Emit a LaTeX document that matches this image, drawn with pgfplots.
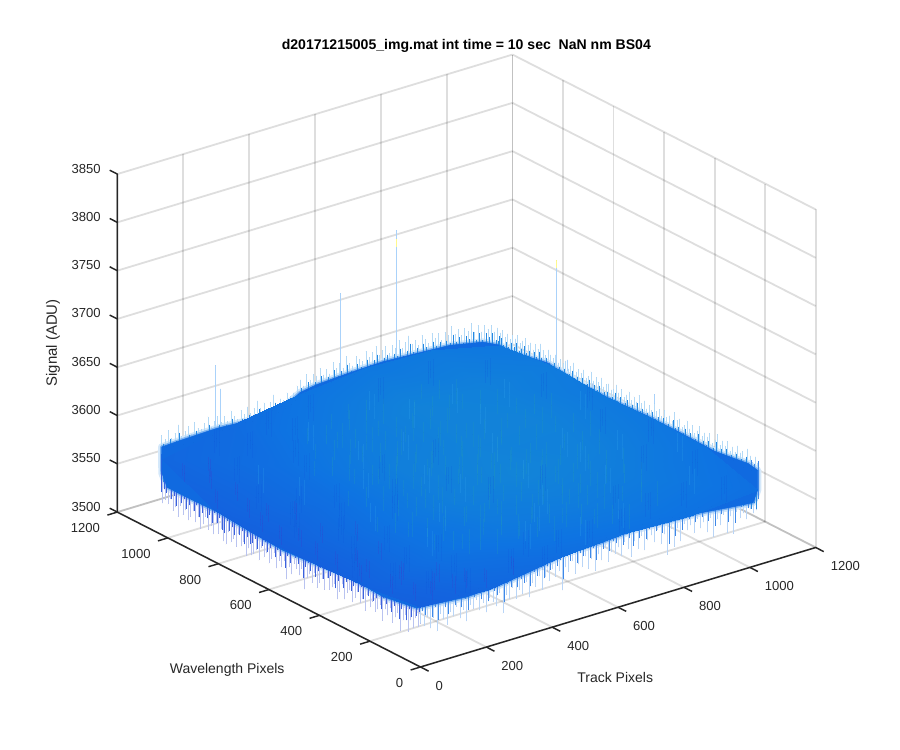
\documentclass[border=0pt]{standalone}
\usepackage{fontspec}
\setmainfont{Liberation Sans}
\usepackage{pgfplots}
\usepackage{pgfplotstable}
\pgfplotsset{compat=1.18}

\definecolor{axisdark}{rgb}{0.15,0.15,0.15}
\definecolor{bluebase}{RGB}{16,106,224}
\definecolor{hazeout}{RGB}{212,232,250}
\definecolor{hazein}{RGB}{125,180,242}
\definecolor{fringetop}{RGB}{180,218,247}
\definecolor{fringeleft}{RGB}{185,195,240}
\definecolor{fringeright}{RGB}{185,213,247}
\definecolor{darktop}{RGB}{36,136,226}
\definecolor{darkleft}{RGB}{58,98,222}
\definecolor{darkright}{RGB}{62,136,232}
\definecolor{spike}{RGB}{170,210,250}
\definecolor{stteal}{RGB}{30,148,192}
\definecolor{stblue}{RGB}{15,85,220}
\definecolor{stpurple}{RGB}{62,60,205}
\definecolor{stlight}{RGB}{45,160,235}

% outline of the surface as seen from this view: x y z
\pgfplotstableread[row sep=\\]{x y z\\
0 1024 3591\\ 64 1024 3592\\ 168 1024 3593\\ 268 1024 3591\\ 368 1024 3593\\ 420 1024 3604\\ 471 1024 3607\\
572 1024 3609\\ 672 1024 3610\\ 775 1024 3608\\ 875 1024 3606\\ 975 1024 3599\\ 1024 1024 3591\\
1024 968 3591\\ 1024 834 3598\\ 1024 703 3594\\ 1024 572 3594\\ 1024 438 3596\\ 1024 307 3596\\ 1024 172 3595\\ 1024 38 3600\\ 1024 0 3598\\
1024 0 3578\\ 1010 0 3566\\ 949 0 3568\\ 849 0 3572\\ 749 0 3573\\ 645 0 3575\\ 546 0 3572\\ 445 0 3572\\ 342 0 3565\\ 241 0 3560\\ 141 0 3558\\
0 0 3562\\ 0 14 3559\\ 0 148 3553\\ 0 279 3555\\ 0 410 3551\\ 0 544 3548\\ 0 675 3550\\ 0 805 3553\\ 0 940 3552\\ 0 1003 3552\\ 0 1023 3564\\ 0 1024 3578\\
}\outline

% spikes sticking out of the four edges of the surface, one value every 10 pixels
\pgfplotstableread[row sep=\\]{z\\
3603\\3598\\3606\\3597\\3601\\3609\\3596\\3600\\3604\\3595\\3606\\3599\\3597\\3602\\3608\\3596\\3601\\3605\\3598\\3603\\
3597\\3607\\3600\\3596\\3604\\3599\\3606\\3598\\3602\\3609\\3600\\3605\\3597\\3603\\3610\\3599\\3604\\3601\\3608\\3603\\
3606\\3612\\3617\\3610\\3621\\3614\\3619\\3616\\3623\\3615\\3620\\3614\\3625\\3618\\3622\\3616\\3627\\3619\\3615\\3624\\
3620\\3617\\3626\\3619\\3623\\3628\\3618\\3622\\3625\\3617\\3624\\3620\\3627\\3618\\3623\\3629\\3619\\3622\\3616\\3625\\
3620\\3615\\3624\\3618\\3622\\3614\\3621\\3617\\3625\\3616\\3620\\3613\\3619\\3615\\3622\\3612\\3618\\3610\\3616\\3611\\
3614\\3606\\3609\\}\backleft
\pgfplotstableread[row sep=\\]{z\\
3606\\3611\\3604\\3609\\3615\\3603\\3610\\3607\\3613\\3605\\3609\\3603\\3612\\3606\\3610\\3604\\3614\\3607\\3602\\3611\\
3606\\3609\\3604\\3613\\3607\\3603\\3610\\3605\\3612\\3606\\3603\\3610\\3607\\3614\\3604\\3608\\3605\\3611\\3603\\3609\\
3606\\3612\\3604\\3608\\3603\\3610\\3606\\3613\\3605\\3609\\3604\\3611\\3607\\3603\\3610\\3605\\3612\\3606\\3604\\3609\\
3607\\3603\\3611\\3605\\3609\\3604\\3612\\3606\\3603\\3610\\3605\\3608\\3604\\3612\\3607\\3603\\3610\\3606\\3609\\3604\\
3611\\3606\\3608\\3612\\3605\\3609\\3614\\3607\\3611\\3604\\3610\\3606\\3612\\3608\\3604\\3611\\3606\\3609\\3603\\3607\\
3602\\3608\\3604\\}\backright
\pgfplotstableread[row sep=\\]{z\\
3545\\3540\\3548\\3536\\3543\\3530\\3546\\3539\\3527\\3544\\3538\\3531\\3545\\3536\\3541\\3528\\3543\\3537\\3533\\3542\\
3535\\3546\\3529\\3540\\3534\\3544\\3537\\3531\\3542\\3538\\3530\\3544\\3535\\3526\\3541\\3536\\3532\\3543\\3529\\3539\\
3534\\3527\\3541\\3530\\3537\\3532\\3519\\3539\\3531\\3536\\3540\\3528\\3534\\3520\\3538\\3530\\3535\\3526\\3541\\3533\\
3527\\3536\\3531\\3539\\3525\\3534\\3529\\3526\\3532\\3523\\3536\\3530\\3541\\3527\\3534\\3529\\3538\\3524\\3526\\3537\\
3531\\3540\\3528\\3535\\3530\\3542\\3533\\3527\\3538\\3531\\3541\\3534\\3529\\3538\\3532\\3540\\3527\\3536\\3531\\3542\\
3535\\3538\\3533\\}\frontleft
\pgfplotstableread[row sep=\\]{z\\
3546\\3541\\3550\\3537\\3547\\3532\\3549\\3543\\3535\\3548\\3542\\3551\\3538\\3546\\3533\\3549\\3544\\3552\\3540\\3547\\
3536\\3550\\3545\\3539\\3552\\3530\\3548\\3543\\3553\\3541\\3549\\3544\\3555\\3538\\3552\\3547\\3557\\3542\\3554\\3549\\
3560\\3551\\3556\\3535\\3558\\3552\\3562\\3548\\3557\\3553\\3563\\3549\\3558\\3545\\3561\\3554\\3565\\3550\\3559\\3556\\
3562\\3552\\3566\\3557\\3548\\3563\\3554\\3567\\3551\\3560\\3564\\3556\\3568\\3552\\3561\\3539\\3565\\3545\\3563\\3549\\
3566\\3558\\3562\\3553\\3567\\3556\\3561\\3550\\3564\\3543\\3560\\3553\\3563\\3543\\3559\\3540\\3562\\3554\\3558\\3551\\
3560\\3555\\3557\\}\frontright

% short vertical streaks on the surface: x y z
\pgfplotstableread[row sep=\\]{x y z\\
310 420 3578\\ 455 615 3583\\ 640 275 3576\\ 525 780 3590\\ 720 505 3580\\ 385 330 3572\\ 590 455 3579\\ 810 640 3588\\ 270 700 3586\\ 665 820 3592\\
430 240 3570\\ 745 365 3576\\ 505 560 3582\\ 350 830 3594\\ 610 160 3574\\ 830 275 3578\\ 470 405 3575\\ 700 660 3586\\ 250 540 3578\\ 565 725 3588\\
395 510 3578\\ 780 780 3592\\ 635 590 3583\\ 520 300 3574\\ 330 620 3582\\ 860 480 3582\\ 685 415 3578\\ 445 860 3595\\ 575 350 3576\\ 290 250 3568\\
750 585 3584\\ 415 700 3586\\ 620 770 3590\\ 540 480 3579\\ 800 170 3576\\ 360 450 3577\\ 690 240 3575\\ 485 650 3584\\ 230 400 3572\\ 875 690 3590\\
655 500 3580\\ 320 760 3590\\ 560 220 3572\\ 725 870 3596\\ 440 320 3572\\ 600 620 3584\\ 770 450 3580\\ 380 590 3581\\ 510 880 3596\\ 840 360 3580\\
675 120 3572\\ 280 340 3570\\ 580 530 3580\\ 460 740 3588\\ 715 300 3576\\ 350 220 3566\\ 630 680 3586\\ 895 560 3586\\ 500 190 3568\\ 405 785 3590\\
}\streakteal
\pgfplotstableread[row sep=\\]{x y z\\
120 480 3566\\ 60 730 3572\\ 205 610 3574\\ 150 260 3562\\ 340 95 3562\\ 250 830 3586\\ 90 390 3562\\ 185 925 3588\\ 420 140 3566\\ 130 660 3572\\
560 70 3572\\ 275 470 3574\\ 45 560 3566\\ 210 150 3562\\ 650 60 3576\\ 375 650 3581\\ 95 860 3580\\ 160 530 3570\\ 480 90 3568\\ 310 910 3592\\
70 210 3560\\ 230 760 3582\\ 760 100 3576\\ 30 310 3560\\ 130 985 3588\\ 530 640 3583\\ 400 40 3566\\ 175 370 3566\\ 860 90 3578\\ 900 300 3584\\
945 520 3588\\ 980 200 3584\\ 950 760 3592\\ 880 890 3596\\ 1000 400 3588\\ 960 60 3578\\ 600 950 3598\\ 410 980 3596\\ 760 960 3598\\ 1005 650 3590\\
240 250 3566\\ 330 540 3576\\ 110 120 3560\\ 470 510 3578\\ 655 380 3578\\ 520 410 3576\\ 80 620 3568\\ 290 990 3590\\ 730 190 3575\\ 190 70 3560\\
}\streakblue
\pgfplotstableread[row sep=\\]{x y z\\
10 420 3562\\ 25 710 3566\\ 15 130 3566\\ 40 880 3572\\ 55 320 3564\\ 8 560 3560\\ 20 960 3570\\ 70 480 3566\\ 35 250 3564\\ 12 640 3562\\
60 30 3568\\ 120 20 3570\\ 210 12 3568\\ 100 75 3568\\ 30 60 3566\\ 170 40 3568\\ 85 180 3566\\ 50 790 3570\\ 110 300 3568\\ 90 610 3570\\
5 810 3564\\ 28 510 3562\\ 65 160 3566\\ 140 110 3568\\ 16 350 3560\\ 300 22 3570\\ 45 660 3566\\ 75 930 3574\\ 130 420 3570\\ 5 240 3564\\
}\streakpurple
\pgfplotstableread[row sep=\\]{x y z\\
480 470 3578\\ 610 840 3592\\ 350 380 3573\\ 735 720 3590\\ 215 480 3574\\ 570 110 3572\\ 830 520 3582\\ 670 590 3584\\ 440 560 3579\\ 920 420 3584\\
295 610 3582\\ 530 240 3573\\ 790 300 3578\\ 380 740 3586\\ 650 440 3579\\ 975 640 3590\\ 860 790 3594\\ 500 720 3586\\ 700 130 3574\\ 250 300 3568\\
600 300 3576\\ 170 700 3576\\ 740 840 3594\\ 930 150 3582\\ 455 180 3570\\ 335 880 3592\\ 815 430 3581\\ 550 920 3596\\ 1010 300 3588\\ 120 800 3580\\
}\streaklight

% the tall single spikes: x y z (top) d (length)
\pgfplotstableread[row sep=\\]{x y z d\\
712 1024 3742 166\\ 542 1024 3694 90\\ 162 1024 3659 67\\ 178 1024 3633 43\\ 1024 797 3709 114\\ 1024 754 3612 12\\ 1024 410 3622 26\\
}\tallspikes

\pgfplotsset{
  nomark/.style={only marks, mark size=0pt, mark options={draw=none, fill=none}, forget plot},
  spikes/.style n args={3}{nomark,
    error bars/.cd, z dir=#1, z fixed=#2, error mark=none, error bar style={#3, line width=0.42pt}},
  thick spikes/.style n args={3}{nomark,
    error bars/.cd, z dir=#1, z fixed=#2, error mark=none, error bar style={#3, line width=0.6pt}},
  axistick/.style n args={3}{nomark,
    error bars/.cd, #1 dir=#2, #1 fixed=#3, error mark=none, error bar style={axisdark, line width=1.1pt}},
  table/x index=0, table/y index=0, table/z index=0,
}

\begin{document}
\begin{tikzpicture}
\begin{axis}[
    x={(0.247pt,0.07469pt)}, y={(-0.1895pt,0.09681pt)}, z={(0pt,0.72429pt)},
    xmin=0, xmax=1200, ymin=0, ymax=1200, zmin=3500, zmax=3850,
    xtick={0,200,...,1200}, ytick={0,200,...,1200}, ztick={3500,3550,...,3850},
    scaled ticks=false, /pgf/number format/1000 sep={}, /pgf/number format/assume math mode=true,
    grid=major, major grid style={black, opacity=0.13, line width=1.35pt},
    axis line style={draw=none}, tick style={draw=none},
    major tick length=7.5pt, tick align=outside,
    tick label style={font=\fontsize{9.8}{12}\selectfont, text=axisdark},
    xticklabel style={anchor=west, xshift=1.1pt, yshift=-10.5pt},
    yticklabel style={anchor=east, xshift=-2.25pt, yshift=-9.75pt},
    zticklabel style={anchor=east, xshift=-2.25pt, yshift=0.75pt},
    clip=false,
    colormap={blues}{rgb255=(20,96,222) rgb255=(14,116,226) rgb255=(18,132,216)},
    title={\bfseries d20171215005\_img.mat int time = 10 sec\ \ NaN nm BS04},
    title style={font=\fontsize{10.54}{13}\selectfont, at={(axis cs:0,0,3500)}, anchor=center, xshift=34.4pt, yshift=459.5pt},
    xlabel={Track Pixels},
    xlabel style={font=\fontsize{10.5}{12}\selectfont, text=axisdark, at={(axis cs:0,0,3500)}, anchor=center, xshift=146pt, yshift=-8pt},
    ylabel={Wavelength Pixels},
    ylabel style={font=\fontsize{10.5}{12}\selectfont, text=axisdark, at={(axis cs:0,0,3500)}, anchor=center, xshift=-145pt, yshift=-2pt},
    zlabel={Signal (ADU)},
    zlabel style={font=\fontsize{11.2}{12}\selectfont, text=axisdark, at={(axis cs:0,0,3500)}, anchor=center, xshift=243pt, yshift=275.6pt},
]
% soft haze round the body, where the fine spikes run together
\addplot3[draw=hazeout, line width=5.5pt, line join=round, forget plot] table[x=x, y=y, z=z] {\outline} -- cycle;
% tall spikes
\addplot3[nomark, error bars/.cd, z dir=minus, z explicit, error mark=none,
    error bar style={spike, line width=0.45pt}] table[x=x, y=y, z=z, z error minus=d] {\tallspikes};
\addplot3[nomark, error bars/.cd, z dir=minus, z fixed=8, error mark=none,
    error bar style={yellow!45!white, line width=0.45pt}] coordinates {(712,1024,3733)(1024,797,3709)};
% fringe behind the body, light tips first
\addplot3[spikes={minus}{40}{fringetop}] table[x expr=\coordindex*10, y expr=1024, z=z] {\backleft};
\addplot3[spikes={minus}{40}{fringetop}] table[x expr=1024, y expr=\coordindex*10, z=z] {\backright};
\addplot3[spikes={plus}{40}{fringeleft}] table[x expr=0, y expr=\coordindex*10, z=z] {\frontleft};
\addplot3[spikes={plus}{40}{fringeright}] table[x expr=\coordindex*10, y expr=0, z=z] {\frontright};
\addplot3[draw=hazein, line width=2.6pt, line join=round, forget plot] table[x=x, y=y, z=z] {\outline} -- cycle;
\addplot3[thick spikes={minus}{40}{darktop}] table[x expr=\coordindex*10+5, y expr=1024, z expr=\thisrow{z}-9] {\backleft};
\addplot3[thick spikes={minus}{40}{darktop}] table[x expr=1024, y expr=\coordindex*10+5, z expr=\thisrow{z}-9] {\backright};
\addplot3[thick spikes={plus}{40}{darkleft}] table[x expr=0, y expr=\coordindex*10+5, z expr=\thisrow{z}+11] {\frontleft};
\addplot3[thick spikes={plus}{40}{darkright}] table[x expr=\coordindex*10+5, y expr=0, z expr=\thisrow{z}+11] {\frontright};
% body of the surface
\addplot3[fill=bluebase, draw=bluebase, line width=0.4pt, line join=round, forget plot] table[x=x, y=y, z=z] {\outline} -- cycle;
\addplot3[surf, shader=interp, point meta=\thisrow{c}, mesh/cols=6] table[x=x, y=y, z=z] {
x y z c
0 0 3562 0.05
205 0 3559 0.2
410 0 3570 0.35
614 0 3574 0.45
819 0 3572 0.45
1024 0 3578 0.4
0 205 3554 0.1
205 205 3570 0.45
410 205 3575 0.65
614 205 3580 0.75
819 205 3584 0.7
1024 205 3595 0.5
0 410 3551 0.05
205 410 3568 0.45
410 410 3576 0.8
614 410 3582 0.95
819 410 3586 0.85
1024 410 3596 0.6
0 614 3549 0.05
205 614 3570 0.4
410 614 3580 0.8
614 614 3586 0.9
819 614 3590 0.9
1024 614 3594 0.65
0 819 3553 0.1
205 819 3578 0.4
410 819 3590 0.7
614 819 3596 0.9
819 819 3596 0.85
1024 819 3598 0.7
0 1024 3578 0.2
205 1024 3592 0.3
410 1024 3603 0.5
614 1024 3609 0.6
819 1024 3607 0.65
1024 1024 3591 0.6
};
% texture of the surface: each list is used again at a small offset to thicken it
\addplot3[spikes={both}{10}{stteal, opacity=0.38}] table[x=x, y=y, z=z] {\streakteal};
\addplot3[spikes={both}{13}{stteal, opacity=0.32}] table[x expr=\thisrow{x}+27, y expr=\thisrow{y}-31, z=z] {\streakteal};
\addplot3[spikes={both}{8}{stteal, opacity=0.32}] table[x expr=\thisrow{x}-41, y expr=\thisrow{y}+19, z=z] {\streakteal};
\addplot3[spikes={both}{12}{stblue, opacity=0.2}] table[x=x, y=y, z=z] {\streakblue};
\addplot3[spikes={both}{9}{stblue, opacity=0.18}] table[x expr=\thisrow{x}+17, y expr=\thisrow{y}+13, z=z] {\streakblue};
\addplot3[spikes={both}{14}{stblue, opacity=0.18}] table[x expr=\thisrow{x}+9, y expr=\thisrow{y}-8, z=z] {\streakblue};
\addplot3[spikes={both}{9}{stpurple, opacity=0.25}] table[x=x, y=y, z=z] {\streakpurple};
\addplot3[spikes={both}{7}{stpurple, opacity=0.22}] table[x expr=\thisrow{x}+11, y expr=\thisrow{y}+23, z=z] {\streakpurple};
\addplot3[spikes={both}{10}{stlight, opacity=0.3}] table[x=x, y=y, z=z] {\streaklight};
\addplot3[spikes={both}{13}{stlight, opacity=0.25}] table[x expr=\thisrow{x}-13, y expr=\thisrow{y}-37, z=z] {\streaklight};
% axis lines and ticks
\addplot3[axistick={y}{minus}{32}] coordinates {(0,0,3500)(200,0,3500)(400,0,3500)(600,0,3500)(800,0,3500)(1000,0,3500)(1200,0,3500)};
\addplot3[axistick={x}{minus}{30}] coordinates {(0,0,3500)(0,200,3500)(0,400,3500)(0,600,3500)(0,800,3500)(0,1000,3500)(0,1200,3500)};
\addplot3[axistick={y}{plus}{30}] coordinates {(0,1200,3500)(0,1200,3550)(0,1200,3600)(0,1200,3650)(0,1200,3700)(0,1200,3750)(0,1200,3800)(0,1200,3850)};
\draw[axisdark, line width=1.1pt, line cap=round, line join=round] (axis cs:1200,0,3500) -- (axis cs:0,0,3500) -- (axis cs:0,1200,3500) -- (axis cs:0,1200,3850);
\coordinate (o) at (axis cs:0,0,3500);
\end{axis}
\pgfresetboundingbox
\path[use as bounding box] ([shift={(-315.375pt,-62.25pt)}]o) rectangle ([shift={(359.625pt,500.25pt)}]o);
\end{tikzpicture}
\end{document}
